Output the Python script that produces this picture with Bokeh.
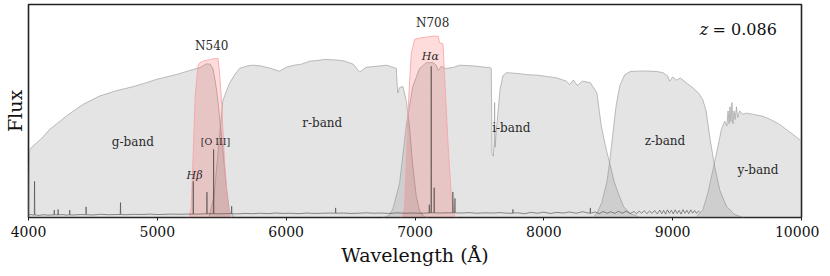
from bokeh.plotting import figure
from bokeh.models import Range1d, FixedTicker
from bokeh.core.properties import value
from bokeh.embed import file_html
from bokeh.resources import INLINE

# ---------------- data ----------------
xticks = [4000, 5000, 6000, 7000, 8000, 9000, 10000]

g_w = [4000, 4004, 4010, 4034, 4100, 4163, 4230, 4293, 4420, 4551, 4680, 4810, 4900, 4991, 5070, 5147, 5250, 5328, 5380, 5410, 5431, 5450, 5470, 5490, 5509, 5535, 5560, 5600]
g_t = [0, 0.20, 0.32, 0.335, 0.37, 0.413, 0.445, 0.476, 0.53, 0.57, 0.595, 0.614, 0.63, 0.648, 0.66, 0.671, 0.69, 0.703, 0.721, 0.72, 0.70, 0.64, 0.55, 0.43, 0.32, 0.15, 0.03, 0]

r_w = [5400, 5440, 5470, 5509, 5560, 5600, 5638, 5700, 5740, 5800, 5880, 5949, 6000, 6060, 6120, 6182, 6250, 6300, 6380, 6450, 6520, 6570, 6620, 6700, 6780, 6855, 6862, 6867, 6880, 6906, 6932, 6958, 6983, 7010, 7036, 7070, 7100]
r_t = [0, 0.10, 0.30, 0.55, 0.63, 0.67, 0.70, 0.712, 0.715, 0.712, 0.70, 0.687, 0.705, 0.715, 0.72, 0.734, 0.738, 0.742, 0.74, 0.735, 0.72, 0.683, 0.705, 0.71, 0.715, 0.70, 0.62, 0.585, 0.61, 0.615, 0.55, 0.42, 0.24, 0.10, 0.03, 0.005, 0]

i_w = [6750, 6800, 6828, 6880, 6932, 6983, 7036, 7088, 7139, 7165, 7180, 7204, 7230, 7243, 7300, 7346, 7450, 7550, 7585, 7592, 7598, 7608, 7614, 7618, 7622, 7630, 7645, 7660, 7682, 7709, 7800, 7864, 7950, 8050, 8097, 8175, 8200, 8230, 8260, 8300, 8361, 8412, 8446, 8480, 8511, 8545, 8576, 8620, 8666, 8750]
i_t = [0, 0.01, 0.04, 0.16, 0.43, 0.615, 0.70, 0.727, 0.727, 0.715, 0.69, 0.71, 0.70, 0.70, 0.705, 0.715, 0.712, 0.705, 0.703, 0.70, 0.30, 0.288, 0.35, 0.54, 0.33, 0.40, 0.50, 0.60, 0.665, 0.68, 0.676, 0.671, 0.668, 0.66, 0.656, 0.64, 0.625, 0.645, 0.62, 0.64, 0.633, 0.585, 0.43, 0.33, 0.256, 0.17, 0.116, 0.05, 0.02, 0]

z_w = [8380, 8412, 8450, 8490, 8511, 8537, 8560, 8590, 8628, 8670, 8718, 8800, 8880, 8925, 8960, 8977, 9000, 9030, 9060, 9100, 9155, 9200, 9233, 9260, 9287, 9326, 9365, 9417, 9482, 9550]
z_t = [0, 0.02, 0.07, 0.17, 0.26, 0.40, 0.52, 0.62, 0.67, 0.685, 0.687, 0.688, 0.685, 0.68, 0.665, 0.64, 0.66, 0.645, 0.655, 0.635, 0.61, 0.585, 0.554, 0.50, 0.38, 0.24, 0.13, 0.053, 0.014, 0]

y_w = [9180, 9235, 9274, 9313, 9352, 9378, 9404, 9420, 9430, 9438, 9445, 9452, 9460, 9468, 9476, 9485, 9495, 9505, 9520, 9545, 9572, 9620, 9701, 9760, 9830, 9934, 10000]
y_t = [0, 0.037, 0.117, 0.225, 0.335, 0.413, 0.452, 0.43, 0.50, 0.44, 0.52, 0.45, 0.54, 0.44, 0.50, 0.46, 0.52, 0.47, 0.50, 0.485, 0.49, 0.485, 0.475, 0.46, 0.437, 0.39, 0.358]

n540_w = [5240, 5251, 5263, 5276, 5294, 5315, 5328, 5360, 5400, 5440, 5470, 5480, 5496, 5522, 5548, 5560, 5575]
n540_t = [0, 0.01, 0.05, 0.26, 0.57, 0.71, 0.726, 0.735, 0.74, 0.745, 0.747, 0.70, 0.57, 0.26, 0.05, 0.01, 0]

n708_w = [6890, 6906, 6919, 6932, 6953, 6971, 6997, 7040, 7100, 7150, 7180, 7191, 7217, 7230, 7256, 7282, 7307, 7320]
n708_t = [0, 0.01, 0.05, 0.27, 0.585, 0.77, 0.836, 0.843, 0.848, 0.852, 0.85, 0.82, 0.815, 0.663, 0.35, 0.10, 0.01, 0]

spec_w = [4000, 4020, 4040, 4045, 4047, 4049, 4080, 4120, 4150, 4180, 4198, 4200, 4202, 4228, 4230, 4232, 4260, 4300,
          4318, 4320, 4322, 4360, 4400, 4440, 4445, 4447, 4449, 4500, 4560, 4620, 4680, 4712, 4714, 4716, 4760, 4820,
          4880, 4940, 5000, 5060, 5120, 5180, 5230, 5277, 5279, 5281, 5320, 5360, 5383, 5385, 5387, 5410, 5435, 5437,
          5439, 5470, 5520, 5575, 5577, 5579, 5620, 5680, 5740, 5800, 5860, 5920, 5980, 6040, 6100, 6160, 6220, 6280,
          6340, 6382, 6384, 6386, 6440, 6500, 6560, 6620, 6680, 6740, 6800, 6860, 6920, 6980, 7040, 7080, 7109, 7111,
          7113, 7124, 7126, 7128, 7147, 7149, 7151, 7200, 7250, 7292, 7294, 7296, 7308, 7310, 7312, 7360, 7420, 7480,
          7540, 7600, 7660, 7720, 7758, 7760, 7762, 7800, 7850, 7900, 7950, 8000, 8050, 8100, 8150, 8200, 8250, 8300,
          8340, 8359, 8361, 8363, 8400, 8430, 8460, 8490, 8520, 8550, 8580, 8610, 8640, 8670, 8700, 8720, 8740, 8760,
          8780, 8800, 8820, 8840, 8860, 8880, 8900, 8915, 8930, 8945, 8960, 8975, 8990, 9005, 9020, 9035, 9050, 9065,
          9080, 9095, 9110, 9125, 9140, 9155, 9170, 9185, 9200, 9210]
spec_f = [0.012, 0.014, 0.011, 0.012, 0.17, 0.012, 0.010, 0.013, 0.011, 0.012, 0.012, 0.035, 0.013, 0.012, 0.038, 0.012, 0.014, 0.011,
          0.013, 0.035, 0.012, 0.012, 0.014, 0.013, 0.013, 0.05, 0.013, 0.012, 0.015, 0.013, 0.014, 0.014, 0.07, 0.014, 0.013, 0.015,
          0.014, 0.016, 0.014, 0.015, 0.016, 0.015, 0.016, 0.016, 0.17, 0.016, 0.016, 0.017, 0.017, 0.119, 0.017, 0.018, 0.018, 0.32,
          0.018, 0.017, 0.018, 0.018, 0.053, 0.018, 0.017, 0.019, 0.018, 0.020, 0.018, 0.021, 0.019, 0.020, 0.018, 0.021, 0.019, 0.020,
          0.021, 0.020, 0.045, 0.020, 0.021, 0.019, 0.020, 0.022, 0.020, 0.021, 0.019, 0.022, 0.020, 0.021, 0.020, 0.021, 0.021, 0.06,
          0.021, 0.022, 0.71, 0.022, 0.022, 0.14, 0.022, 0.021, 0.022, 0.022, 0.12, 0.022, 0.022, 0.09, 0.022, 0.021, 0.023, 0.020,
          0.022, 0.021, 0.023, 0.020, 0.020, 0.038, 0.021, 0.022, 0.018, 0.024, 0.020, 0.025, 0.019, 0.024, 0.021, 0.026, 0.020, 0.027,
          0.022, 0.020, 0.045, 0.020, 0.026, 0.018, 0.028, 0.020, 0.027, 0.019, 0.029, 0.020, 0.030, 0.019, 0.028, 0.018, 0.030, 0.020,
          0.032, 0.018, 0.030, 0.020, 0.033, 0.017, 0.035, 0.018, 0.034, 0.016, 0.036, 0.020, 0.034, 0.017, 0.036, 0.019, 0.033, 0.016,
          0.037, 0.020, 0.034, 0.018, 0.036, 0.020, 0.033, 0.019, 0.030, 0.025]

band_names = ["g-band", "r-band", "i-band", "z-band", "y-band"]
band_lx = [4810, 6280, 7747, 8940, 9662]
band_ly = [0.356, 0.445, 0.42, 0.358, 0.222]
nb_names = ["N540", "N708"]
nb_lx = [5422, 7137]
nb_ly = [0.804, 0.915]
line_names = ["[O III]"]
line_lx = [5452]
line_ly = [0.356]
ital_names = ["Hβ", "Hα"]
ital_lx = [5289, 7119]
ital_ly = [0.197, 0.757]

# ---------------- figure ----------------
FONT = "DejaVu Serif"
p = figure(frame_width=773, frame_height=213, output_backend="svg", toolbar_location=None,
           x_range=Range1d(4000, 10000), y_range=Range1d(0, 1),
           min_border_top=4, min_border_right=18, min_border_left=0, min_border_bottom=0)
p.background_fill_color = "white"
p.border_fill_color = "white"
p.outline_line_color = "#222222"
p.outline_line_width = 1.6
p.xgrid.visible = False
p.ygrid.visible = False

gray = "#7f7f7f"
for w, t in [(g_w, g_t), (r_w, r_t), (i_w, i_t), (z_w, z_t), (y_w, y_t)]:
    p.varea(x=w, y1=[0] * len(w), y2=t, fill_color=gray, fill_alpha=0.21)
    p.line(x=w, y=t, line_color="#999999", line_width=0.8, line_alpha=0.8)

for w, t in [(n540_w, n540_t), (n708_w, n708_t)]:
    p.varea(x=w, y1=[0] * len(w), y2=t, fill_color="#ff3030", fill_alpha=0.17)
    p.line(x=w, y=t, line_color="#f7a0a4", line_width=0.9, line_alpha=0.9)

p.line(x=spec_w, y=spec_f, line_color="#3a3a3a", line_width=0.7, line_alpha=0.8)

txt_color = "#2a2a2a"
p.text(x=band_lx, y=band_ly, text=band_names, text_font=value(FONT), text_font_size="12px",
       text_align="center", text_baseline="middle", text_color=txt_color)
p.text(x=nb_lx, y=nb_ly, text=nb_names, text_font=value(FONT), text_font_size="12px",
       text_align="center", text_baseline="middle", text_color=txt_color)
p.text(x=line_lx, y=line_ly, text=line_names, text_font=value(FONT), text_font_size="9.5px",
       text_align="center", text_baseline="middle", text_color=txt_color)
p.text(x=ital_lx, y=ital_ly, text=ital_names, text_font=value(FONT), text_font_size="11px",
       text_font_style="italic", text_align="center", text_baseline="middle", text_color=txt_color)
p.text(x=[9275], y=[0.883], text=["z"], text_font=value(FONT), text_font_size="16px",
       text_font_style="italic", text_align="right", text_baseline="middle", text_color="#111111")
p.text(x=[9310], y=[0.883], text=["= 0.086"], text_font=value(FONT), text_font_size="16px",
       text_align="left", text_baseline="middle", text_color="#111111")

# axes
xa = p.xaxis[0]
xa.ticker = FixedTicker(ticks=xticks)
xa.minor_tick_line_color = None
xa.major_tick_in = 0
xa.major_tick_out = 3
xa.major_tick_line_color = "#222222"
xa.axis_line_color = None
xa.major_label_text_font = FONT
xa.major_label_text_font_size = "14px"
xa.major_label_text_color = "#111111"
xa.major_label_standoff = 5
xa.axis_label = "Wavelength (Å)"
xa.axis_label_text_font = FONT
xa.axis_label_text_font_size = "19px"
xa.axis_label_text_font_style = "normal"
xa.axis_label_text_color = "#111111"
xa.axis_label_standoff = 4

ya = p.yaxis[0]
ya.ticker = FixedTicker(ticks=[])
ya.minor_tick_line_color = None
ya.major_tick_line_color = None
ya.major_label_text_font_size = "0px"
ya.axis_line_color = None
ya.axis_label = "Flux"
ya.axis_label_text_font = FONT
ya.axis_label_text_font_size = "19px"
ya.axis_label_text_font_style = "normal"
ya.axis_label_text_color = "#111111"
ya.axis_label_standoff = 3

open("out.html", "w").write(file_html(p, INLINE))
